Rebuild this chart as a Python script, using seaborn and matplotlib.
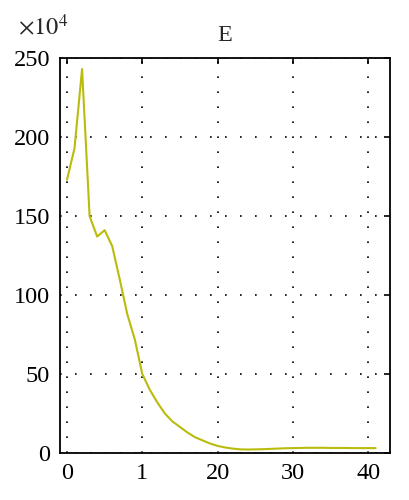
import numpy as np
import pandas as pd
import matplotlib
matplotlib.use('Agg')
import matplotlib.pyplot as plt
import seaborn as sns

# data (values in units of 1e4)
iteration = list(range(42))
energy = [173, 193, 243, 150, 137, 141, 131, 110, 88, 72,
          50, 40, 32, 25, 20, 16.5, 13, 10, 8, 6,
          4.5, 3.5, 2.8, 2.3, 2.2, 2.3, 2.4, 2.6, 2.8, 3.0,
          3.1, 3.2, 3.3, 3.3, 3.3, 3.2, 3.2, 3.2, 3.1, 3.1,
          3.1, 3.1]
xtick_pos = [0, 10, 20, 30, 40]
xtick_lab = ['0', '1', '20', '30', '40']
ytick_pos = [0, 50, 100, 150, 200, 250]

df = pd.DataFrame({'iter': iteration, 'E': energy})

sns.set_style('white')
plt.rcParams['font.family'] = ['Liberation Serif', 'DejaVu Serif']
plt.rcParams['mathtext.fontset'] = 'stix'

fig = plt.figure(figsize=(4.1, 5.0), dpi=100)
ax = fig.add_axes([0.146, 0.094, 0.805, 0.790])

sns.lineplot(data=df, x='iter', y='E', ax=ax, color='#b9bc0c', linewidth=1.5)

ax.set_xlim(-0.95, 42.9)
ax.set_ylim(0, 250)
ax.set_xticks(xtick_pos)
ax.set_xticklabels(xtick_lab)
ax.set_yticks(ytick_pos)
ax.grid(True, color='black', linestyle=(0, (1, 8)), linewidth=1.2)
ax.tick_params(direction='in', top=True, right=True, length=4, width=1.2,
               labelsize=17.5, colors='black', pad=7)
for s in ax.spines.values():
    s.set_color('black')
    s.set_linewidth(1.3)
ax.set_xlabel('')
ax.set_ylabel('')
ax.set_title('E', fontsize=17.5, pad=12)
fig.text(0.043, 0.93, r'$\times10^4$', fontsize=17.5)

plt.savefig('out.png', dpi=100)
